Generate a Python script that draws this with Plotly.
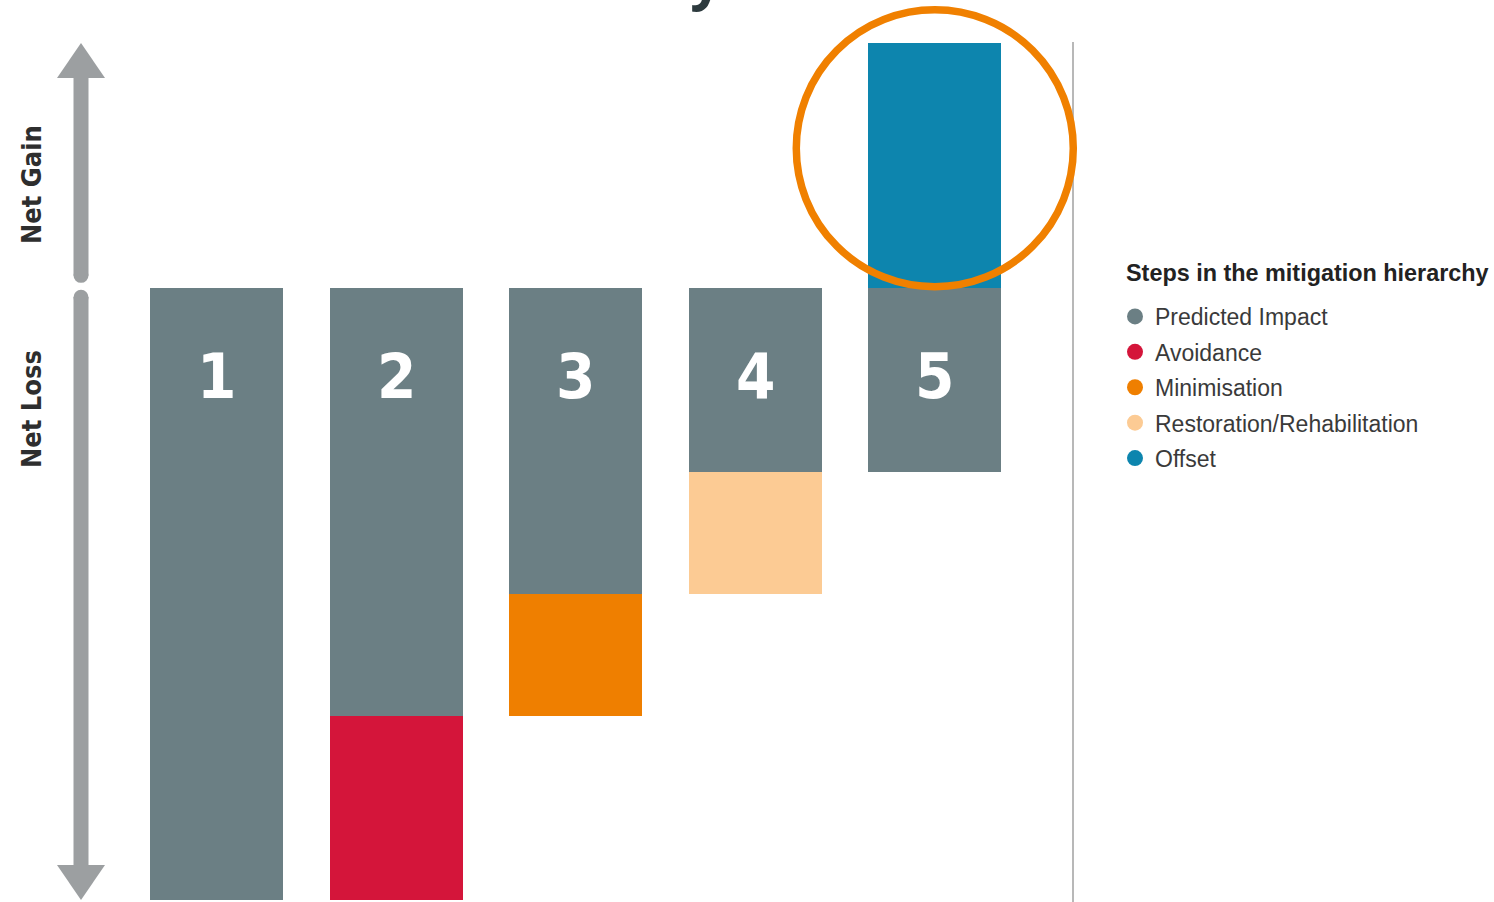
import plotly.graph_objects as go

# ---- data -------------------------------------------------------------
steps = ["1", "2", "3", "4", "5"]
predicted_impact = [-10, -7, -5, -3, -3]
avoidance = [None, -3, None, None, None]
minimisation = [None, None, -2, None, None]
restoration = [None, None, None, -2, None]
offset = [None, None, None, None, 4]

series_names = ["Predicted Impact", "Avoidance", "Minimisation",
                "Restoration/Rehabilitation", "Offset"]
series_colors = ["#6b7f84", "#d4153a", "#ef7f00", "#fccb94", "#0d85ae"]
series_values = [predicted_impact, avoidance, minimisation, restoration, offset]

# ---- page geometry ----------------------------------------------------
W, H = 1494, 902
ML, MR, MT, MB = 127, 421, 43, 2
PW, PH = W - ML - MR, H - MT - MB
Y_RANGE = [-10, 4]
X_RANGE = [-0.5, 4.77]


def paper_x(px):
    return (px - ML) / PW


def paper_y(py):
    return (H - MB - py) / PH


def data_to_px_x(v):
    return ML + (v - X_RANGE[0]) / (X_RANGE[1] - X_RANGE[0]) * PW


def data_to_px_y(v):
    return MT + (Y_RANGE[1] - v) / (Y_RANGE[1] - Y_RANGE[0]) * PH


xs = list(range(len(steps)))
fig = go.Figure()

# stacked bars
for name, color, vals in zip(series_names, series_colors, series_values):
    fig.add_trace(go.Bar(
        x=xs, y=vals, width=0.74, name=name,
        marker=dict(color=color, line=dict(width=0)),
        showlegend=False, hoverinfo="skip",
    ))

# round legend markers
for name, color in zip(series_names, series_colors):
    fig.add_trace(go.Scatter(
        x=[None], y=[None], mode="markers", name=name, legendgroup=name,
        marker=dict(color=color, size=18, symbol="circle"),
    ))

condensed = "DejaVu Sans Condensed, Liberation Sans Narrow, Arial Narrow, sans-serif"

annotations = []
# step numbers inside the grey bars
for i, s in enumerate(steps):
    annotations.append(dict(
        x=i, y=-1.45, xref="x", yref="y", text=s, showarrow=False,
        xanchor="center", yanchor="middle",
        font=dict(family=condensed, size=63, color="white", weight="bold"),
    ))

# side labels
label_font = dict(family=condensed, size=27, color="#2e2e2e", weight="bold")
annotations.append(dict(x=paper_x(31), y=paper_y(185), xref="paper", yref="paper",
                        xanchor="center", yanchor="middle",
                        text="Net Gain", textangle=-90, showarrow=False, font=label_font))
annotations.append(dict(x=paper_x(31), y=paper_y(409), xref="paper", yref="paper",
                        xanchor="center", yanchor="middle",
                        text="Net Loss", textangle=-90, showarrow=False, font=label_font))

# legend heading
annotations.append(dict(x=paper_x(1124), y=paper_y(273), xref="paper", yref="paper",
                        xanchor="left", yanchor="middle", showarrow=False,
                        text="Steps in the mitigation hierarchy",
                        font=dict(family="Liberation Sans", size=23.4, color="#222222", weight="bold")))

# heading above the page edge
annotations.append(dict(x=paper_x(724), y=paper_y(16.5), xref="paper", yref="paper",
                        xanchor="right", yanchor="bottom", text="Hierarchy", showarrow=False,
                        font=dict(family="Open Sans", size=56, color="#2d3a3e", weight="bold")))

shapes = []
arrow_color = "#9c9fa1"
ax = 81          # arrow shaft centre (px)
half_shaft = 7.5
head_half = 24
head_len = 35
top_px = data_to_px_y(Y_RANGE[1])
bot_px = data_to_px_y(Y_RANGE[0])
zero_px = data_to_px_y(0)
up_end = zero_px - 5
down_end = zero_px + 2

# up arrow head + shaft
shapes.append(dict(type="path", xref="paper", yref="paper", fillcolor=arrow_color, line=dict(width=0),
                   path=f"M {paper_x(ax - head_half)} {paper_y(top_px + head_len)} "
                        f"L {paper_x(ax)} {paper_y(top_px)} "
                        f"L {paper_x(ax + head_half)} {paper_y(top_px + head_len)} Z"))
shapes.append(dict(type="rect", xref="paper", yref="paper", fillcolor=arrow_color, line=dict(width=0),
                   x0=paper_x(ax - half_shaft), x1=paper_x(ax + half_shaft),
                   y0=paper_y(up_end - half_shaft), y1=paper_y(top_px + head_len - 1)))
shapes.append(dict(type="circle", xref="paper", yref="paper", fillcolor=arrow_color, line=dict(width=0),
                   x0=paper_x(ax - half_shaft), x1=paper_x(ax + half_shaft),
                   y0=paper_y(up_end), y1=paper_y(up_end - 2 * half_shaft)))
# down arrow head + shaft
shapes.append(dict(type="path", xref="paper", yref="paper", fillcolor=arrow_color, line=dict(width=0),
                   path=f"M {paper_x(ax - head_half)} {paper_y(bot_px - head_len)} "
                        f"L {paper_x(ax)} {paper_y(bot_px)} "
                        f"L {paper_x(ax + head_half)} {paper_y(bot_px - head_len)} Z"))
shapes.append(dict(type="rect", xref="paper", yref="paper", fillcolor=arrow_color, line=dict(width=0),
                   x0=paper_x(ax - half_shaft), x1=paper_x(ax + half_shaft),
                   y0=paper_y(bot_px - head_len + 1), y1=paper_y(down_end + half_shaft)))
shapes.append(dict(type="circle", xref="paper", yref="paper", fillcolor=arrow_color, line=dict(width=0),
                   x0=paper_x(ax - half_shaft), x1=paper_x(ax + half_shaft),
                   y0=paper_y(down_end + 2 * half_shaft), y1=paper_y(down_end)))

# divider between chart and legend
shapes.append(dict(type="line", xref="paper", yref="paper", x0=1, x1=1,
                   y0=paper_y(H), y1=paper_y(top_px - 1), line=dict(color="#a0a0a0", width=1.5)))

# highlight ring around the offset bar
ring_cx = data_to_px_x(4)
ring_cy = data_to_px_y(2.28)
ring_r = 138.5
shapes.append(dict(type="circle", xref="paper", yref="paper",
                   x0=paper_x(ring_cx - ring_r), x1=paper_x(ring_cx + ring_r),
                   y0=paper_y(ring_cy + ring_r), y1=paper_y(ring_cy - ring_r),
                   line=dict(color="#f08000", width=7.5)))

fig.update_layout(
    width=W, height=H,
    margin=dict(l=ML, r=MR, t=MT, b=MB, pad=0),
    paper_bgcolor="white", plot_bgcolor="white",
    barmode="relative", bargap=0,
    xaxis=dict(range=X_RANGE, visible=False, fixedrange=True),
    yaxis=dict(range=Y_RANGE, visible=False, fixedrange=True),
    annotations=annotations, shapes=shapes,
    showlegend=True,
    legend=dict(
        x=paper_x(1115), y=paper_y(295), xanchor="left", yanchor="top",
        traceorder="grouped", tracegroupgap=2.5,
        font=dict(family="Liberation Sans", size=23, color="#3a3a3a"),
        bgcolor="rgba(0,0,0,0)", itemclick=False, itemdoubleclick=False,
    ),
)

fig.write_html("out.html", config={"displayModeBar": False})
